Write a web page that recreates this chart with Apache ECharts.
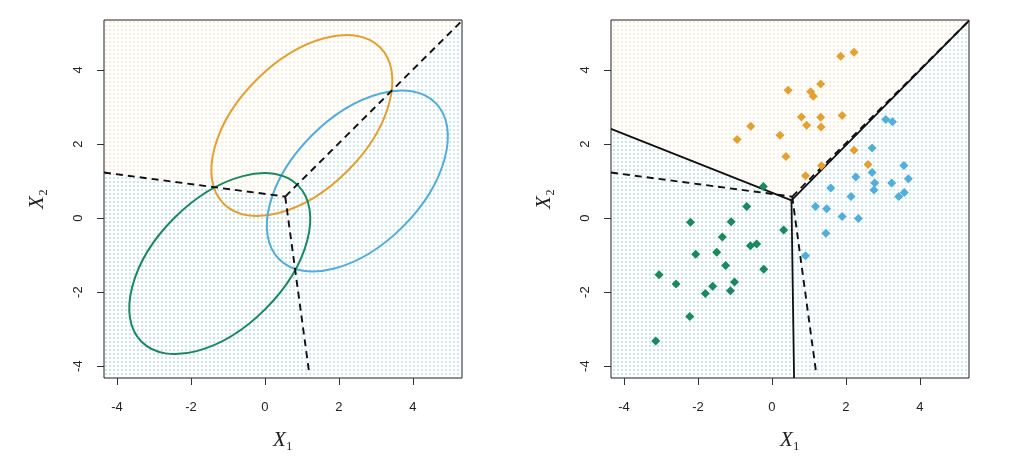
<!DOCTYPE html>
<html>
<head>
<meta charset="utf-8">
<script src="https://cdn.jsdelivr.net/npm/echarts@6/dist/echarts.min.js"></script>
<style>
html,body{margin:0;padding:0;background:#fff;}
#chart{width:1024px;height:464px;}
</style>
</head>
<body>
<div id="chart"></div>
<script>
// ---------- data ----------
const xRange = [-4.35, 5.33];
const yRange = [-4.32, 5.35];
const tickValues = [-4, -2, 0, 2, 4];
const tickLabels = ['-4', '-2', '0', '2', '4'];

// ellipse centres (orange, blue, green), shared semi-axes and tilt
const ellipseCenters = [[1.0, 2.5], [2.5, 1.0], [-1.22, -1.23]];
const ellipseAxes = [2.99, 1.74];
const ellipseTiltDeg = 45;

// Bayes decision boundary (dashed)
const bayesLeft = [[-4.35, 1.23], [0.55, 0.58]];
const bayesUp = [[0.55, 0.58], [5.33, 5.33]];
const bayesDown = [[0.55, 0.58], [1.2, -4.2]];

// LDA decision boundary (solid)
const ldaLeft = [[-4.35, 2.41], [0.53, 0.48]];
const ldaUp = [[0.53, 0.48], [5.33, 5.33]];
const ldaDown = [[0.53, 0.48], [0.6, -4.32]];

// classification regions (orange, blue, green)
const bayesRegions = [
  [[-4.35, 1.23], [0.55, 0.58], [5.33, 5.33], [5.33, 5.35], [-4.35, 5.35]],
  [[0.55, 0.58], [5.33, 5.33], [5.33, -4.32], [1.23, -4.32]],
  [[-4.35, 1.23], [0.55, 0.58], [1.23, -4.32], [-4.35, -4.32]]
];
const ldaRegions = [
  [[-4.35, 2.41], [0.53, 0.48], [5.33, 5.33], [5.33, 5.35], [-4.35, 5.35]],
  [[0.53, 0.48], [5.33, 5.33], [5.33, -4.32], [0.6, -4.32]],
  [[-4.35, 2.41], [0.53, 0.48], [0.6, -4.32], [-4.35, -4.32]]
];

// observations
const orangePts = [
  [1.86, 4.37], [2.22, 4.48], [0.44, 3.45], [1.32, 3.62], [1.05, 3.41], [1.12, 3.29],
  [0.80, 2.73], [1.32, 2.72], [1.90, 2.77], [0.94, 2.51], [1.33, 2.46], [-0.57, 2.48],
  [-0.94, 2.12], [0.22, 2.24], [0.38, 1.66], [2.22, 1.83], [2.60, 1.45], [1.34, 1.41],
  [0.91, 1.14]
];
const bluePts = [
  [3.08, 2.66], [3.26, 2.60], [2.71, 1.89], [3.57, 1.42], [3.69, 1.06], [2.71, 1.23],
  [2.27, 1.11], [2.78, 0.95], [2.76, 0.76], [3.24, 0.95], [3.58, 0.69], [3.43, 0.58],
  [1.59, 0.81], [2.14, 0.58], [1.18, 0.31], [1.48, 0.25], [1.90, 0.04], [2.34, -0.01],
  [1.46, -0.41], [0.91, -1.02]
];
const greenPts = [
  [-0.23, 0.85], [-0.68, 0.31], [-2.20, -0.11], [-1.10, -0.10], [0.32, -0.32], [-1.34, -0.51],
  [-0.58, -0.75], [-0.41, -0.70], [-2.06, -0.98], [-1.49, -0.92], [-1.25, -1.28], [-0.22, -1.38],
  [-3.05, -1.53], [-2.59, -1.78], [-1.01, -1.73], [-1.60, -1.84], [-1.12, -1.96], [-1.80, -2.04],
  [-2.22, -2.66], [-3.14, -3.32]
];

// ---------- styles ----------
const COL = { orange: '#E5A12F', blue: '#4FAEDC', green: '#178A5E' };
function dotPattern(color) {
  const c = document.createElement('canvas');
  c.width = 4; c.height = 4;
  const g = c.getContext('2d');
  g.fillStyle = color;
  g.fillRect(1, 1, 2, 2);
  return { image: c, repeat: 'repeat' };
}
const patterns = [
  dotPattern('rgba(225,165,80,0.20)'),
  dotPattern('rgba(80,160,200,0.25)'),
  dotPattern('rgba(50,140,150,0.24)')
];

const chart = echarts.init(document.getElementById('chart'), null, { renderer: 'canvas' });

const tickFont = { fontFamily: 'Liberation Sans', fontSize: 13, color: '#222' };
const titleRich = {
  a: { fontFamily: 'Liberation Serif', fontStyle: 'italic', fontSize: 21, color: '#222' },
  b: { fontFamily: 'Liberation Serif', fontSize: 21, color: '#222' }
};

function makeX(idx) {
  return {
    type: 'value', gridIndex: idx, min: xRange[0], max: xRange[1],
    axisLine: { show: false, onZero: false }, splitLine: { show: false },
    axisTick: { show: true, length: 7, customValues: tickValues, lineStyle: { color: '#333' } },
    axisLabel: Object.assign({ margin: 23, customValues: tickValues,
      formatter: v => tickLabels[tickValues.indexOf(v)] }, tickFont),
    name: '{a|X}{b|₁}', nameLocation: 'middle', nameGap: 52,
    nameTextStyle: { rich: titleRich }
  };
}
function makeY(idx) {
  return {
    type: 'value', gridIndex: idx, min: yRange[0], max: yRange[1],
    axisLine: { show: false, onZero: false }, splitLine: { show: false },
    axisTick: { show: true, length: 7, customValues: tickValues, lineStyle: { color: '#333' } },
    axisLabel: Object.assign({ margin: 19, rotate: 90, customValues: tickValues,
      formatter: v => tickLabels[tickValues.indexOf(v)] }, tickFont),
    name: '{a|X}{b|₂}', nameLocation: 'middle', nameGap: 56,
    nameTextStyle: { rich: titleRich }
  };
}

function regionSeries(idx, regions) {
  return {
    type: 'custom', xAxisIndex: idx, yAxisIndex: idx, z: 1, clip: true, silent: true,
    data: regions.map((r, i) => [i]),
    renderItem: (params, api) => {
      const poly = regions[params.dataIndex].map(p => api.coord(p));
      return { type: 'polygon', shape: { points: poly },
        style: { fill: patterns[params.dataIndex], stroke: null } };
    }
  };
}
function lineSeries(idx, data, dashed) {
  return {
    type: 'line', xAxisIndex: idx, yAxisIndex: idx, data: data, symbol: 'none', z: 4,
    silent: true, animation: false,
    lineStyle: dashed ? { color: '#111', width: 1.9, type: [7, 5] } : { color: '#111', width: 1.8 }
  };
}
function pointSeries(data, color) {
  return {
    type: 'scatter', xAxisIndex: 1, yAxisIndex: 1, data: data, symbol: 'diamond',
    symbolSize: 9, z: 5, itemStyle: { color: color, opacity: 1 }
  };
}

const ellipseColors = [COL.orange, COL.blue, COL.green];
const ellipseSeries = {
  type: 'custom', xAxisIndex: 0, yAxisIndex: 0, z: 3, silent: true,
  data: ellipseCenters.map(c => [c[0], c[1]]),
  renderItem: (params, api) => {
    const c = api.coord([api.value(0), api.value(1)]);
    const s = api.size([1, 1]);
    return {
      type: 'ellipse', x: c[0], y: c[1], rotation: ellipseTiltDeg * Math.PI / 180,
      shape: { cx: 0, cy: 0, rx: ellipseAxes[0] * s[0], ry: ellipseAxes[1] * s[1] },
      style: { fill: null, stroke: ellipseColors[params.dataIndex], lineWidth: 2 }
    };
  }
};

chart.setOption({
  animation: false,
  backgroundColor: '#fff',
  grid: [
    { left: 104, top: 20, width: 358, height: 358, show: true, borderColor: '#222', borderWidth: 1, backgroundColor: '#fff' },
    { left: 611, top: 20, width: 358, height: 358, show: true, borderColor: '#222', borderWidth: 1, backgroundColor: '#fff' }
  ],
  xAxis: [makeX(0), makeX(1)],
  yAxis: [makeY(0), makeY(1)],
  series: [
    regionSeries(0, bayesRegions),
    regionSeries(1, ldaRegions),
    ellipseSeries,
    lineSeries(0, bayesLeft, true),
    lineSeries(0, bayesUp, true),
    lineSeries(0, bayesDown, true),
    lineSeries(1, bayesLeft, true),
    lineSeries(1, bayesUp, true),
    lineSeries(1, bayesDown, true),
    lineSeries(1, ldaLeft, false),
    lineSeries(1, ldaUp, false),
    lineSeries(1, ldaDown, false),
    pointSeries(orangePts, COL.orange),
    pointSeries(bluePts, COL.blue),
    pointSeries(greenPts, COL.green)
  ]
});
</script>
</body>
</html>
